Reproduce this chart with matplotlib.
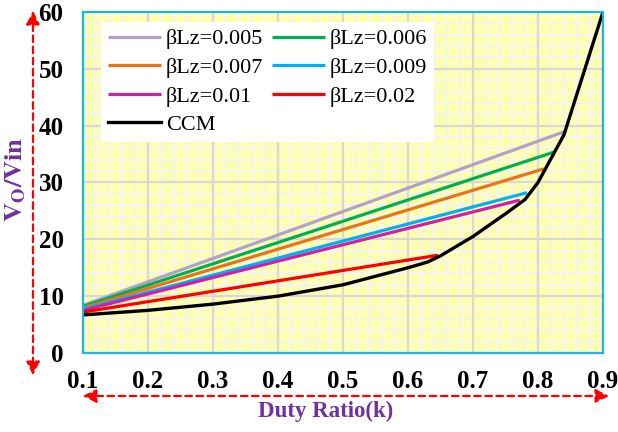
import matplotlib
matplotlib.use('Agg')
import matplotlib.pyplot as plt
from matplotlib.patches import FancyArrowPatch

plt.rcParams['font.family'] = ['Liberation Serif', 'DejaVu Serif']
plt.rcParams['mathtext.fontset'] = 'stix'

# values
labels = ['βLz=0.005', 'βLz=0.006', 'βLz=0.007', 'βLz=0.009', 'βLz=0.01', 'βLz=0.02']
colors = ['#b3a2c7', '#00b050', '#e8731a', '#00b0f0', '#d020a8', '#ff0000']
k_start = [0.1, 0.1, 0.1, 0.1, 0.1, 0.1]
v_start = [8.4, 8.2, 7.9, 7.7, 7.5, 7.2]
k_end = [0.842, 0.826, 0.809, 0.783, 0.772, 0.646]
v_end = [39.0, 35.4, 32.4, 28.2, 26.9, 17.2]

k_ccm = [0.1, 0.2, 0.3, 0.4, 0.5, 0.6, 0.63, 0.65, 0.7, 0.75, 0.78, 0.8, 0.84, 0.9]
v_ccm = [6.7, 7.5, 8.6, 10.0, 12.0, 15.0, 16.0, 17.1, 20.5, 24.5, 27.0, 30.0, 38.4, 60.0]

xticks = [0.1, 0.2, 0.3, 0.4, 0.5, 0.6, 0.7, 0.8, 0.9]
yticks = [0, 10, 20, 30, 40, 50, 60]

fig = plt.figure(figsize=(6.18, 4.32), dpi=100)
ax = fig.add_axes([0.1343, 0.1829, 0.8414, 0.7893])
ax.set_facecolor('#ffffb0')

handles = {}
for i in range(len(labels)):
    ln, = ax.plot([k_start[i], k_end[i]], [v_start[i], v_end[i]], color=colors[i], lw=2.3,
                  solid_capstyle='butt', zorder=3)
    handles[labels[i]] = ln
ln, = ax.plot(k_ccm, v_ccm, color='black', lw=2.4, zorder=4)
handles['CCM'] = ln

ax.set_xlim(0.1, 0.9)
ax.set_ylim(0, 60)
ax.set_xticks(xticks)
ax.set_yticks(yticks)
ax.set_xticklabels(['%.1f' % t for t in xticks], fontsize=18, fontweight='bold')
ax.set_yticklabels([str(t) for t in yticks], fontsize=18, fontweight='bold')
ax.tick_params(which='both', length=0)
ax.tick_params(axis='x', pad=12)
ax.tick_params(axis='y', pad=14)

# grid: minor first, major on top
for i in range(41):
    ax.axvline(0.1 + 0.02 * i, color='#f4f4ee', lw=1.6, zorder=1)
for i in range(31):
    ax.axhline(2 * i, color='#f4f4ee', lw=1.6, zorder=1)
for t in xticks:
    ax.axvline(t, color='#d8d8d8', lw=1.6, zorder=1.5)
for t in yticks:
    ax.axhline(t, color='#d8d8d8', lw=1.6, zorder=1.5)

for s in ax.spines.values():
    s.set_color('#1fb0f0')
    s.set_linewidth(1.6)
    s.set_zorder(5)

order = ['βLz=0.005', 'βLz=0.007', 'βLz=0.01', 'CCM', 'βLz=0.006', 'βLz=0.009', 'βLz=0.02']
leg = ax.legend([handles[o] for o in order], order, ncol=2, loc='upper left',
                bbox_to_anchor=(0.035, 0.97), fontsize=16, frameon=True, fancybox=False,
                framealpha=1, edgecolor='white', handlelength=2.4, handletextpad=0.2,
                columnspacing=0.4, labelspacing=0.36, borderpad=0.3, borderaxespad=0)
leg.get_frame().set_linewidth(0)
leg.set_zorder(6)

fig.text(0.025, 0.585, r'$\mathbf{V_{O}/Vin}$', rotation=90, color='#7030a0', fontsize=19,
         ha='center', va='center')
fig.text(0.527, 0.047, 'Duty Ratio(k)', color='#7030a0', fontsize=16.5, fontweight='bold',
         ha='center', va='center')

a1 = FancyArrowPatch((33 / 618, 1 - 8 / 432), (33 / 618, 1 - 378 / 432), transform=fig.transFigure,
                     arrowstyle='<|-|>', mutation_scale=20, color='red', lw=1.6, linestyle=(0, (3, 2)))
a2 = FancyArrowPatch((80 / 618, 1 - 396 / 432), (612 / 618, 1 - 396 / 432), transform=fig.transFigure,
                     arrowstyle='<|-|>', mutation_scale=20, color='red', lw=1.6, linestyle=(0, (3, 2)))
fig.patches.extend([a1, a2])

fig.savefig('out.png', dpi=100)
